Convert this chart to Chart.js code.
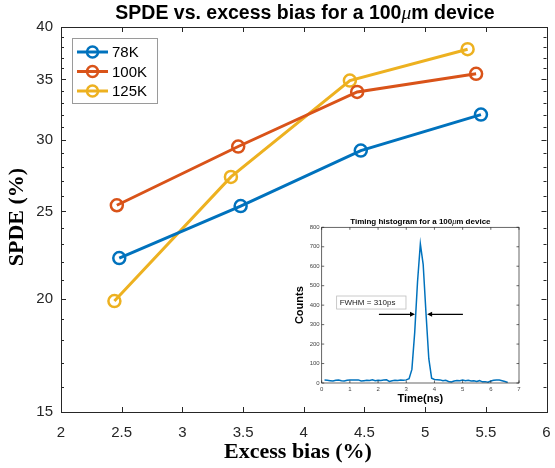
<!DOCTYPE html>
<html><head><meta charset="utf-8">
<script src="https://cdn.jsdelivr.net/npm/chart.js@4.4.0/dist/chart.umd.min.js"></script>
<style>
html,body{margin:0;padding:0;background:#fff;}
#wrap{position:relative;width:555px;height:468px;overflow:hidden;}
#main{position:absolute;left:0;top:0;}
#inset{position:absolute;left:290px;top:214px;}
</style></head><body>
<div id="wrap"><canvas id="main" width="555" height="468"></canvas><canvas id="inset" width="234" height="196"></canvas></div>
<script>
// ---------- data ----------
const seriesLabels = ['78K', '100K', '125K'];
const seriesColors = ['#0072BD', '#D95319', '#EDB120'];
const bias78K  = [2.48, 3.48, 4.47, 5.46];
const spde78K  = [22.2, 25.35, 29.2, 32.0];
const bias100K = [2.46, 3.46, 4.44, 5.42];
const spde100K = [25.4, 29.5, 33.9, 35.5];
const bias125K = [2.44, 3.40, 4.38, 5.35];
const spde125K = [19.9, 27.3, 34.9, 37.8];
const yTickLabels = [15, 20, 25, 30, 35, 40];
const xTickLabels = [2, 2.5, 3, 3.5, 4, 4.5, 5, 5.5, 6];

// inset: timing histogram
const histTime = [0.1,0.2,0.3,0.4,0.5,0.6,0.7,0.8,0.9,1.0,1.1,1.2,1.3,1.4,1.5,1.6,1.7,1.8,1.9,2.0,
  2.1,2.2,2.3,2.4,2.5,2.6,2.7,2.8,2.9,3.0,3.1,3.2,3.3,3.4,3.5,3.6,3.7,3.8,3.9,4.0,
  4.1,4.2,4.3,4.4,4.5,4.6,4.7,4.8,4.9,5.0,5.1,5.2,5.3,5.4,5.5,5.6,5.7,5.8,5.9,6.0,
  6.1,6.2,6.3,6.4,6.5,6.6];
const histCounts = [15,14,12,10,14,15,12,10,14,15,16,15,16,10,12,14,13,16,12,14,
  13,15,16,8,12,14,13,15,14,16,22,70,260,520,715,610,360,125,25,18,
  17,16,12,14,8,5,10,13,12,15,12,14,10,12,8,12,6,7,4,10,
  14,16,15,12,8,3];
const insetXTicks = [0,1,2,3,4,5,6,7];
const insetYTicks = [0,100,200,300,400,500,600,700,800];
const fwhmText = 'FWHM = 310ps';

const SANS = '"Liberation Sans", Arial, Helvetica, sans-serif';
const SERIF = '"Liberation Serif", "Times New Roman", serif';
const AXC = '#262626';

function drawRich(ctx, parts, cx, cy) {
  let total = 0;
  parts.forEach(p => { ctx.font = p.font; p.w = ctx.measureText(p.text).width; total += p.w; });
  let x = cx - total / 2;
  ctx.textAlign = 'left'; ctx.textBaseline = 'middle';
  parts.forEach(p => { ctx.font = p.font; ctx.fillText(p.text, x, cy); x += p.w; });
}

function pts(xs, ys) { return xs.map((x, i) => ({ x: x, y: ys[i] })); }

const mainDecor = {
  id: 'mainDecor',
  afterDraw(chart) {
    const ctx = chart.ctx, a = chart.chartArea;
    const xs = chart.scales.x, ys = chart.scales.y;
    ctx.save();
    ctx.strokeStyle = AXC; ctx.lineWidth = 1;
    ctx.strokeRect(Math.round(a.left) + 0.5, Math.round(a.top) + 0.5,
      Math.round(a.right - a.left), Math.round(a.bottom - a.top));
    ctx.beginPath();
    for (let v = yTickLabels[0]; v <= yTickLabels[yTickLabels.length - 1]; v++) {
      const py = Math.round(ys.getPixelForValue(v)) + 0.5;
      const len = yTickLabels.includes(v) ? 5 : 3;
      ctx.moveTo(a.left, py); ctx.lineTo(a.left + len, py);
      ctx.moveTo(a.right, py); ctx.lineTo(a.right - len, py);
    }
    xTickLabels.forEach(v => {
      const px = Math.round(xs.getPixelForValue(v)) + 0.5;
      ctx.moveTo(px, a.bottom); ctx.lineTo(px, a.bottom - 5);
      ctx.moveTo(px, a.top); ctx.lineTo(px, a.top + 5);
    });
    ctx.stroke();

    // title
    ctx.fillStyle = '#000';
    drawRich(ctx, [
      { text: 'SPDE vs. excess bias for a 100', font: 'bold 19.5px ' + SANS },
      { text: 'μ', font: 'italic 19.5px ' + SERIF },
      { text: 'm device', font: 'bold 19.5px ' + SANS }
    ], 305, 14);

    // axis titles
    ctx.font = 'bold 22px ' + SERIF;
    ctx.textAlign = 'center'; ctx.textBaseline = 'middle';
    ctx.fillText('Excess bias (%)', 298, 452);
    ctx.save();
    ctx.translate(17, 217);
    ctx.rotate(-Math.PI / 2);
    ctx.fillText('SPDE (%)', 0, 0);
    ctx.restore();

    // legend
    const lx = 72, ly = 38, lw = 85, lh = 65;
    ctx.fillStyle = '#fff';
    ctx.fillRect(lx, ly, lw, lh);
    ctx.strokeStyle = '#9a9a9a'; ctx.lineWidth = 1;
    ctx.strokeRect(lx + 0.5, ly + 0.5, lw, lh);
    chart.data.datasets.forEach((ds, i) => {
      const yy = 52 + i * 19.5;
      ctx.strokeStyle = ds.borderColor; ctx.lineWidth = 3;
      ctx.beginPath(); ctx.moveTo(77, yy); ctx.lineTo(108, yy); ctx.stroke();
      ctx.lineWidth = 2.5;
      ctx.beginPath(); ctx.arc(92.5, yy, 5.5, 0, Math.PI * 2); ctx.stroke();
      ctx.fillStyle = '#000';
      ctx.font = '15px ' + SANS; ctx.textAlign = 'left'; ctx.textBaseline = 'middle';
      ctx.fillText(ds.label, 112, yy + 1);
    });
    ctx.restore();
  }
};

new Chart(document.getElementById('main'), {
  type: 'line',
  data: {
    datasets: [
      { label: seriesLabels[0], data: pts(bias78K, spde78K) },
      { label: seriesLabels[1], data: pts(bias100K, spde100K) },
      { label: seriesLabels[2], data: pts(bias125K, spde125K) }
    ].map((d, i) => Object.assign(d, {
      borderColor: seriesColors[i], pointBorderColor: seriesColors[i],
      backgroundColor: 'rgba(0,0,0,0)', pointBackgroundColor: 'rgba(0,0,0,0)',
      borderWidth: 3, pointRadius: 6, pointBorderWidth: 2.5, pointStyle: 'circle',
      tension: 0, fill: false, clip: false
    }))
  },
  options: {
    responsive: false, animation: false, events: [],
    layout: { padding: { left: 0, right: 5, top: 27, bottom: 0 } },
    plugins: { legend: { display: false }, title: { display: false }, tooltip: { enabled: false } },
    scales: {
      x: {
        type: 'linear', min: 2, max: 6,
        grid: { display: false, drawTicks: false }, border: { display: false },
        afterBuildTicks: s => { s.ticks = xTickLabels.map(v => ({ value: v })); },
        afterFit: s => { s.height = 56; s.paddingLeft = 0; s.paddingRight = 0; },
        ticks: { padding: 12, color: AXC, font: { family: SANS, size: 15 }, maxRotation: 0,
          callback: v => String(v) }
      },
      y: {
        type: 'logarithmic', min: 15, max: 40,
        grid: { display: false, drawTicks: false }, border: { display: false },
        afterBuildTicks: s => { s.ticks = yTickLabels.map(v => ({ value: v })); },
        afterFit: s => { s.width = 61; s.paddingTop = 0; s.paddingBottom = 0; },
        ticks: { padding: 8, color: AXC, font: { family: SANS, size: 15 },
          callback: v => String(v) }
      }
    }
  },
  plugins: [mainDecor]
});

// ---------- inset ----------
const insetDecor = {
  id: 'insetDecor',
  afterDraw(chart) {
    const ctx = chart.ctx, a = chart.chartArea;
    const xs = chart.scales.x, ys = chart.scales.y;
    ctx.save();
    ctx.strokeStyle = AXC; ctx.lineWidth = 0.7;
    ctx.strokeRect(a.left, a.top, a.right - a.left, a.bottom - a.top);
    ctx.beginPath();
    insetYTicks.forEach(v => {
      const py = ys.getPixelForValue(v);
      ctx.moveTo(a.left, py); ctx.lineTo(a.left + 2.5, py);
      ctx.moveTo(a.right, py); ctx.lineTo(a.right - 2.5, py);
    });
    insetXTicks.forEach(v => {
      const px = xs.getPixelForValue(v);
      ctx.moveTo(px, a.bottom); ctx.lineTo(px, a.bottom - 2.5);
      ctx.moveTo(px, a.top); ctx.lineTo(px, a.top + 2.5);
    });
    ctx.stroke();

    ctx.fillStyle = '#000';
    drawRich(ctx, [
      { text: 'Timing histogram for a 100', font: 'bold 8px ' + SANS },
      { text: 'μ', font: 'italic 8px ' + SERIF },
      { text: 'm device', font: 'bold 8px ' + SANS }
    ], (a.left + a.right) / 2, 8);

    ctx.font = 'bold 11px ' + SANS;
    ctx.textAlign = 'center'; ctx.textBaseline = 'middle';
    ctx.fillText('Time(ns)', (a.left + a.right) / 2, 185);
    ctx.save();
    ctx.translate(10, (a.top + a.bottom) / 2);
    ctx.rotate(-Math.PI / 2);
    ctx.fillText('Counts', 0, 0);
    ctx.restore();

    // FWHM box
    const bx1 = xs.getPixelForValue(0.53), bx2 = xs.getPixelForValue(2.99);
    const by1 = ys.getPixelForValue(447), by2 = ys.getPixelForValue(380);
    ctx.fillStyle = '#fff';
    ctx.fillRect(bx1, by1, bx2 - bx1, by2 - by1);
    ctx.strokeStyle = '#bdbdbd'; ctx.lineWidth = 0.8;
    ctx.strokeRect(bx1, by1, bx2 - bx1, by2 - by1);
    ctx.fillStyle = '#222';
    ctx.font = '8px ' + SANS; ctx.textAlign = 'left'; ctx.textBaseline = 'middle';
    ctx.fillText(fwhmText, bx1 + 3, (by1 + by2) / 2 + 0.5);

    // arrows
    function arrow(x0, x1, yv) {
      const p0 = xs.getPixelForValue(x0), p1 = xs.getPixelForValue(x1), py = ys.getPixelForValue(yv);
      const dir = Math.sign(p1 - p0);
      ctx.strokeStyle = '#000'; ctx.fillStyle = '#000'; ctx.lineWidth = 1.3;
      ctx.beginPath(); ctx.moveTo(p0, py); ctx.lineTo(p1 - dir * 3, py); ctx.stroke();
      ctx.beginPath(); ctx.moveTo(p1, py); ctx.lineTo(p1 - dir * 5, py - 2.5); ctx.lineTo(p1 - dir * 5, py + 2.5);
      ctx.closePath(); ctx.fill();
    }
    arrow(2.03, 3.31, 353);
    arrow(5.01, 3.74, 353);
    ctx.restore();
  }
};

new Chart(document.getElementById('inset'), {
  type: 'line',
  data: {
    datasets: [{
      label: 'Counts', data: pts(histTime, histCounts),
      borderColor: '#0072BD', borderWidth: 1.5, pointRadius: 0, tension: 0, fill: false
    }]
  },
  options: {
    responsive: false, animation: false, events: [],
    layout: { padding: { left: 0, right: 5, top: 13.3, bottom: 0 } },
    plugins: { legend: { display: false }, title: { display: false }, tooltip: { enabled: false } },
    scales: {
      x: {
        type: 'linear', min: 0, max: 7,
        grid: { display: false, drawTicks: false }, border: { display: false },
        afterBuildTicks: s => { s.ticks = insetXTicks.map(v => ({ value: v })); },
        afterFit: s => { s.height = 27; s.paddingLeft = 0; s.paddingRight = 0; },
        ticks: { padding: 3, color: '#444', font: { family: SANS, size: 6 }, maxRotation: 0 }
      },
      y: {
        type: 'linear', min: 0, max: 800,
        grid: { display: false, drawTicks: false }, border: { display: false },
        afterBuildTicks: s => { s.ticks = insetYTicks.map(v => ({ value: v })); },
        afterFit: s => { s.width = 31.7; s.paddingTop = 0; s.paddingBottom = 0; },
        ticks: { padding: 2, color: '#444', font: { family: SANS, size: 6 } }
      }
    }
  },
  plugins: [insetDecor]
});
</script>
</body></html>
